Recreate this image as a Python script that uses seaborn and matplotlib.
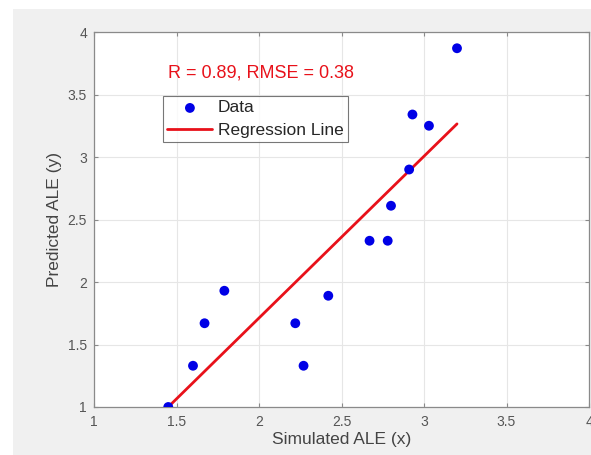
import numpy as np
import pandas as pd
import matplotlib
matplotlib.use("Agg")
import matplotlib.pyplot as plt
import seaborn as sns
from matplotlib.patches import Rectangle

# values
simulated = [1.45, 1.60, 1.67, 1.79, 2.22, 2.27, 2.42, 2.67, 2.78, 2.80, 2.91, 2.93, 3.03, 3.20]
predicted = [1.00, 1.33, 1.67, 1.93, 1.67, 1.33, 1.89, 2.33, 2.33, 2.61, 2.90, 3.34, 3.25, 3.87]
reg_slope = 1.294
reg_intercept = -0.876
stats_text = "R = 0.89, RMSE = 0.38"
x_ticks = [1, 1.5, 2, 2.5, 3, 3.5, 4]
y_ticks = [1, 1.5, 2, 2.5, 3, 3.5, 4]

df = pd.DataFrame({"x": simulated, "y": predicted})
line_x = np.array([min(simulated), max(simulated)])
line_df = pd.DataFrame({"x": line_x, "y": reg_slope * line_x + reg_intercept})

sns.set_style("white")
plt.rcParams["font.family"] = ["Liberation Sans", "DejaVu Sans"]

fig = plt.figure(figsize=(5.91, 4.55), dpi=100)
fig.patch.set_facecolor("white")
# MATLAB-like grey figure area with a thin white margin left/top
fig.patches.append(Rectangle((13 / 591, 0), 1, 1 - 9 / 455, transform=fig.transFigure,
                             facecolor="#f0f0f0", edgecolor="none", zorder=-10))
ax = fig.add_axes([94 / 591, 1 - 407 / 455, 495 / 591, 375 / 455])
ax.set_facecolor("white")

sns.scatterplot(data=df, x="x", y="y", ax=ax, color="#0000e6", s=50, edgecolor="none",
                label="Data", zorder=3)
sns.lineplot(data=line_df, x="x", y="y", ax=ax, color="#e8111a", linewidth=2,
             label="Regression Line", zorder=2)

ax.set_xlim(1, 4)
ax.set_ylim(1, 4)
ax.set_xticks(x_ticks)
ax.set_yticks(y_ticks)
ax.set_xticklabels([f"{t:g}" for t in x_ticks])
ax.set_yticklabels([f"{t:g}" for t in y_ticks])
ax.grid(True, color="#e6e6e6", linewidth=0.8)
ax.set_axisbelow(True)
ax.tick_params(direction="in", length=3, colors="#8a8a8a", labelcolor="#555555",
               labelsize=10, top=True, right=True, bottom=True, left=True)
ax.tick_params(axis="x", pad=6)
ax.tick_params(axis="y", pad=5)
for sp in ax.spines.values():
    sp.set_color("#8a8a8a")
    sp.set_linewidth(0.9)

ax.set_xlabel("Simulated ALE (x)", fontsize=12.5, color="#444444", labelpad=2)
ax.set_ylabel("Predicted ALE (y)", fontsize=12.5, color="#444444", labelpad=4)

ax.text(2.01, 3.67, stats_text, color="#e8111a", fontsize=13, ha="center", va="center")

leg = ax.legend(loc="upper left", bbox_to_anchor=((163 - 94) / 495, (407 - 96) / 375),
                fontsize=12.5, frameon=True, fancybox=False, borderpad=0.25,
                handlelength=2.6, handletextpad=0.3, labelspacing=0.4, borderaxespad=0)
leg.get_frame().set_edgecolor("#555555")
leg.get_frame().set_linewidth(0.8)

fig.savefig("out.png", dpi=100)
